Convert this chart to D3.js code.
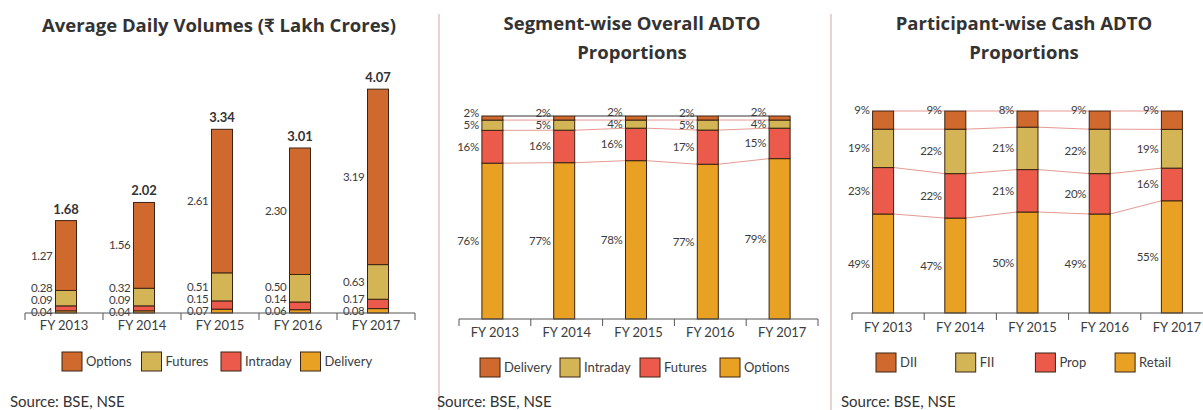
<!DOCTYPE html>
<html>
<head>
<meta charset="utf-8">
<script src="https://cdn.jsdelivr.net/npm/d3@7"></script>
<style>
  body { margin: 0; background: #fff; }
  svg { display: block; font-family: Lato, "Open Sans", "Noto Sans", sans-serif; }
</style>
</head>
<body>
<svg id="chart" width="1203" height="410"></svg>
<script>
var years = ["FY 2013", "FY 2014", "FY 2015", "FY 2016", "FY 2017"];

// average daily volumes (Rs lakh crores)
var volDelivery = [0.04, 0.04, 0.07, 0.06, 0.08];
var volIntraday = [0.09, 0.09, 0.15, 0.14, 0.17];
var volFutures = [0.28, 0.32, 0.51, 0.50, 0.63];
var volOptions = [1.27, 1.56, 2.61, 2.30, 3.19];
var volTotal = [1.68, 2.02, 3.34, 3.01, 4.07];

// segment-wise overall ADTO (%)
var segOptions = [76, 77, 78, 77, 79];
var segFutures = [16, 16, 16, 17, 15];
var segIntraday = [5, 5, 4, 5, 4];
var segDelivery = [2, 2, 2, 2, 2];

// participant-wise cash ADTO (%)
var partRetail = [49, 47, 50, 49, 55];
var partProp = [23, 22, 21, 20, 16];
var partFII = [19, 22, 21, 22, 19];
var partDII = [9, 9, 8, 9, 9];

var cDark = "#D0692D", cKhaki = "#D4B556", cRed = "#EC5A4B", cOrange = "#E8A123";
var textCol = "#3c3c3c";

var svg = d3.select("#chart");

// panel dividers
[439, 831].forEach(function(xx) {
  svg.append("line").attr("x1", xx).attr("x2", xx).attr("y1", 14).attr("y2", 410)
    .attr("stroke", "#cfa79f").attr("stroke-width", 1);
});

function title(lines, cx, y0) {
  lines.forEach(function(t, i) {
    svg.append("text").attr("x", cx).attr("y", y0 + i * 29)
      .attr("text-anchor", "middle").attr("font-size", 18.5).attr("font-weight", "bold")
      .attr("font-family", "'Open Sans', Lato, sans-serif")
      .attr("fill", "#333").text(t);
  });
}

function panel(o) {
  var g = svg.append("g");
  var x = d3.scaleBand().domain(years).range(o.xRange);
  var y = d3.scaleLinear().domain(o.yDomain).range([o.baseY, o.topY]);
  var keys = o.series.map(function(s) { return s.name; });
  var rows = years.map(function(yr, j) {
    var r = { year: yr };
    o.series.forEach(function(s) { r[s.name] = s.values[j]; });
    return r;
  });
  var stack = d3.stack().keys(keys);
  if (o.expand) stack.offset(d3.stackOffsetExpand);
  var layers = stack(rows);
  var bw = 21;
  var bx = function(yr) { return x(yr) + x.bandwidth() / 2 - bw / 2 + o.shift; };

  // series lines between bars
  if (o.seriesLines) {
    layers.forEach(function(layer, k) {
      var top = k == layers.length - 1;
      for (var j = 0; j < years.length - 1; j++) {
        g.append("line")
          .attr("x1", bx(years[j]) + bw).attr("y1", y(layer[j][1]))
          .attr("x2", bx(years[j + 1])).attr("y2", y(layer[j + 1][1]))
          .attr("stroke", top && o.topLineColor ? o.topLineColor : "#e59a92")
          .attr("stroke-width", 1);
      }
    });
  }

  layers.forEach(function(layer, k) {
    g.selectAll(null).data(layer).enter().append("rect")
      .attr("x", function(d) { return bx(d.data.year); })
      .attr("y", function(d) { return y(d[1]); })
      .attr("width", bw)
      .attr("height", function(d) { return y(d[0]) - y(d[1]); })
      .attr("fill", o.series[k].color)
      .attr("stroke", "#3a2414").attr("stroke-width", 1);
  });

  // segment labels, left of each bar, pushed apart when crowded
  years.forEach(function(yr, j) {
    var ys = layers.map(function(layer) { return y((layer[j][0] + layer[j][1]) / 2); });
    if (o.topLabelAtEnd) ys[ys.length - 1] = y(layers[layers.length - 1][j][1]) - 1.5;
    if (ys[0] > o.baseY) ys[0] = o.baseY;
    for (var k = 1; k < ys.length; k++) {
      if (ys[k] > ys[k - 1] - o.gap) ys[k] = ys[k - 1] - o.gap;
    }
    if (o.topLabelAtEnd) {
      // top label stays at the bar end; push the ones beneath it down instead
      for (var k = ys.length - 2; k >= 0; k--) {
        if (ys[k] < ys[k + 1] + o.gap) ys[k] = ys[k + 1] + o.gap;
      }
    }
    o.series.forEach(function(s, k) {
      g.append("text").attr("x", bx(yr) - 3).attr("y", ys[k]).attr("dy", "0.35em")
        .attr("text-anchor", "end").attr("font-size", 11.5).attr("fill", textCol)
        .attr("letter-spacing", -0.3)
        .text(o.fmt(s.values[j]));
    });
  });

  if (o.totals) {
    g.selectAll(null).data(layers[layers.length - 1]).enter().append("text")
      .attr("x", function(d) { return bx(d.data.year) + bw / 2; })
      .attr("y", function(d) { return y(d[1]) - 7; })
      .attr("text-anchor", "middle").attr("font-size", 13).attr("font-weight", "bold")
      .attr("fill", "#333")
      .text(function(d, j) { return o.totals[j].toFixed(2); });
  }

  // x axis: line, edge ticks, centred labels
  var edges = years.map(function(yr) { return x(yr); }).concat([o.xRange[1]]);
  g.append("line").attr("x1", o.xRange[0]).attr("x2", o.xRange[1])
    .attr("y1", o.baseY).attr("y2", o.baseY).attr("stroke", "#555");
  g.selectAll(null).data(edges).enter().append("line")
    .attr("x1", function(d) { return d; }).attr("x2", function(d) { return d; })
    .attr("y1", o.baseY).attr("y2", o.baseY + 7).attr("stroke", "#555");
  var ax = g.append("g").attr("transform", "translate(0," + o.baseY + ")")
    .call(d3.axisBottom(x).tickSize(0).tickPadding(o.labelPad));
  ax.select(".domain").remove();
  ax.selectAll("text").attr("font-size", 13).attr("fill", textCol)
    .attr("font-family", "Lato, sans-serif");

  // legend
  o.legend.forEach(function(s, i) {
    var lx = o.legendX + i * o.legendStep;
    g.append("rect").attr("x", lx).attr("y", o.legendY - 9).attr("width", 20).attr("height", 19)
      .attr("fill", s.color).attr("stroke", "#3a2414").attr("stroke-width", 1);
    g.append("text").attr("x", lx + 24).attr("y", o.legendY).attr("dy", "0.35em")
      .attr("font-size", 13).attr("fill", textCol).text(s.name);
  });

  svg.append("text").attr("x", o.sourceX).attr("y", 407).attr("font-size", 15)
    .attr("fill", "#333").text("Source: BSE, NSE");
}

var pct = function(v) { return v + "%"; };

title(["Average Daily Volumes (\u20B9 Lakh Crores)"], 219, 32);
var s1 = [
  { name: "Delivery", values: volDelivery, color: cOrange },
  { name: "Intraday", values: volIntraday, color: cRed },
  { name: "Futures", values: volFutures, color: cKhaki },
  { name: "Options", values: volOptions, color: cDark }
];
panel({
  series: s1, legend: s1.slice().reverse(),
  xRange: [25, 415], yDomain: [0, 4.6], baseY: 313, topY: 60, shift: 2,
  fmt: function(v) { return v.toFixed(2); }, totals: volTotal, gap: 12,
  labelPad: 8, legendX: 62, legendStep: 79.5, legendY: 361, sourceX: 10
});

title(["Segment-wise Overall ADTO", "Proportions"], 632, 30);
var s2 = [
  { name: "Options", values: segOptions, color: cOrange },
  { name: "Futures", values: segFutures, color: cRed },
  { name: "Intraday", values: segIntraday, color: cKhaki },
  { name: "Delivery", values: segDelivery, color: cDark }
];
panel({
  series: s2, legend: s2.slice().reverse(), expand: true,
  xRange: [459, 818], yDomain: [0, 1], baseY: 319, topY: 116, shift: -2.5,
  fmt: pct, gap: 12, seriesLines: true, topLineColor: "#333", topLabelAtEnd: true,
  labelPad: 9, legendX: 480, legendStep: 80, legendY: 367, sourceX: 437
});

title(["Participant-wise Cash ADTO", "Proportions"], 1024, 30);
var s3 = [
  { name: "Retail", values: partRetail, color: cOrange },
  { name: "Prop", values: partProp, color: cRed },
  { name: "FII", values: partFII, color: cKhaki },
  { name: "DII", values: partDII, color: cDark }
];
panel({
  series: s3, legend: s3.slice().reverse(), expand: true,
  xRange: [852, 1213], yDomain: [0, 1], baseY: 313, topY: 111, shift: -5,
  fmt: pct, gap: 12, seriesLines: true, topLabelAtEnd: true,
  labelPad: 10, legendX: 876, legendStep: 79.7, legendY: 362, sourceX: 841
});
</script>
</body>
</html>
